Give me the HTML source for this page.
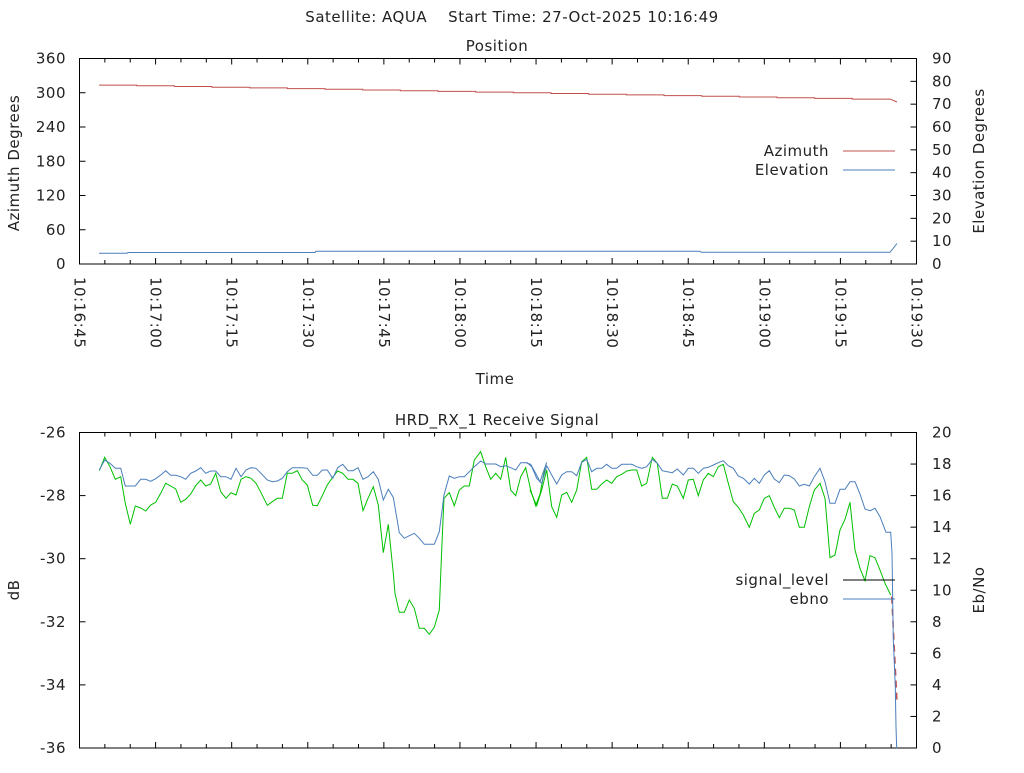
<!DOCTYPE html>
<html><head><meta charset="utf-8"><style>
html,body{margin:0;padding:0;background:#fff;}
svg text{font-family:"DejaVu Sans","Liberation Sans",sans-serif;font-size:15px;letter-spacing:0.5px;fill:#222;}
</style></head><body>
<svg id="s" width="1024" height="768" xmlns="http://www.w3.org/2000/svg">
<rect width="1024" height="768" fill="#fff"/>
<text x="512" y="22" text-anchor="middle" xml:space="preserve">Satellite: AQUA    Start Time: 27-Oct-2025 10:16:49</text>
<text x="497" y="51" text-anchor="middle">Position</text>
<text x="497" y="425" text-anchor="middle">HRD_RX_1 Receive Signal</text>
<text x="495" y="384" text-anchor="middle">Time</text>
<text transform="translate(19,163) rotate(-90)" text-anchor="middle">Azimuth Degrees</text>
<text transform="translate(984,161) rotate(-90)" text-anchor="middle">Elevation Degrees</text>
<text transform="translate(19,590) rotate(-90)" text-anchor="middle">dB</text>
<text transform="translate(984,590) rotate(-90)" text-anchor="middle">Eb/No</text>
<g id="g"></g>
<text x="829" y="156" text-anchor="end">Azimuth</text>
<text x="829" y="175" text-anchor="end">Elevation</text>
<line x1="843" y1="151" x2="895" y2="151" stroke="#c0504d"/>
<line x1="843" y1="170" x2="895" y2="170" stroke="#4a7ebb"/>
<text x="829" y="585" text-anchor="end">signal_level</text>
<text x="829" y="604" text-anchor="end">ebno</text>
<line x1="843" y1="580" x2="895" y2="580" stroke="#000"/>
<line x1="843" y1="599" x2="895" y2="599" stroke="#4a7ebb"/>
</svg>
<script>
var g=document.getElementById('g'),h='';
function L(a,b,c,d,s,w){h+='<line x1="'+a+'" y1="'+b+'" x2="'+c+'" y2="'+d+'" stroke="'+(s||'#000')+'" stroke-width="'+(w||1)+'"/>';}
function T(x,y,t,a){h+='<text x="'+x+'" y="'+y+'" text-anchor="'+a+'">'+t+'</text>';}
var X0=79.5,X1=916.5;
var labs=['10:16:45','10:17:00','10:17:15','10:17:30','10:17:45','10:18:00','10:18:15','10:18:30','10:18:45','10:19:00','10:19:15','10:19:30'];
function frame(t,b){
 h+='<rect x="'+X0+'" y="'+t+'" width="'+(X1-X0)+'" height="'+(b-t)+'" fill="none" stroke="#000"/>';
 for(var i=0;i<=33;i++){var x=X0+i*(X1-X0)/33;var len=(i%3==0)?6:4;L(x,b,x,b-len);L(x,t,x,t+len);}
}
var t1=58.5,b1=264;
frame(t1,b1);
for(var i=0;i<=6;i++){var y=b1-i*(b1-t1)/6;L(X0,y,X0+6,y);T(66,y+5,i*60,'end');}
for(var i=0;i<=9;i++){var y=b1-i*(b1-t1)/9;L(X1,y,X1-6,y);T(932,y+5,i*10,'start');}
for(var i=0;i<12;i++){var x=X0+i*(X1-X0)/11;h+='<text transform="translate('+x+',277) rotate(90)" dominant-baseline="central">'+labs[i]+'</text>';}
var az='M99,85.1',ys=[85.1,85.8,86.5,87.2,87.9,88.6,89.3,90,90.7,91.4,92.1,92.8,93.5,94.2,94.9,95.6,96.3,97,97.7,98.4,99.1],n=ys.length,st=(890-99)/n;
for(var i=0;i<n;i++){var x=99+i*st;az+=' L'+x.toFixed(1)+','+ys[i]+' L'+(x+st).toFixed(1)+','+ys[i];}
az+=' L897,102';
h+='<path d="'+az+'" fill="none" stroke="#c0504d"/>';
h+='<path d="M99,253.3 L127,253.3 L128,252.5 L315,252.5 L316,251.3 L700,251.3 L701,252.3 L890,252.3 L897,243.5" fill="none" stroke="#4a7ebb"/>';
var t2=432.5,b2=748;
frame(t2,b2);
for(var i=0;i<=5;i++){var y=t2+i*(b2-t2)/5;L(X0,y,X0+6,y);T(66,y+5,-26-2*i,'end');}
for(var i=0;i<=10;i++){var y=b2-i*(b2-t2)/10;L(X1,y,X1-6,y);T(932,y+5,i*2,'start');}
function P(arr,ox,col){var d='';for(var i=0;i<arr.length;i+=2){d+=(i?' L':'M')+(ox+arr[i]/3).toFixed(1)+','+(420+arr[i+1]/3).toFixed(1);}h+='<path d="'+d+'" fill="none" stroke="'+col+'"/>';}
var g1=[118,152,134,112,150,140,166,178,182,170,196,250,211,313,226,258,242,264,257,273,272,255,287,247,302,220,317,190,332,198,347,207,362,247,377,238,392,222,407,197,422,180,437,198,452,192,467,160,482,215,498,235,513,218,528,225,543,178,558,170,573,175,588,190,603,218,622,256,637,245,652,235,667,235,682,160,697,160,712,152,727,180,742,195,758,256,772,257,787,227,802,195,818,172,833,153,848,160,864,178,879,178,894,190,909,272,924,235,940,200,955,255,970,398,985,313,1000,460,1005,520,1018,577,1033,577,1048,540,1063,565,1078,625,1093,625,1108,643,1123,622,1138,570,1145,390,1152,235,1168,218,1183,257,1198,210,1213,198,1228,198,1243,120,1262,95,1277,140,1292,178,1307,160,1322,178,1337,112,1352,210,1367,227,1382,170,1397,143,1412,210,1427,257,1440,222,1455,143];
var g2=[30,210,50,257,65,210,80,150,95,260,110,292,125,225,140,217,155,247,170,210,185,125,200,112,215,208,230,208,245,192,260,180,275,190,290,170,305,163,320,153,335,150,350,150,365,198,380,190,397,112,412,130,427,235,442,235,457,192,472,198,490,235,505,180,520,178,535,227,550,180,565,160,580,170,595,140,610,133,625,190,640,245,655,262,670,285,688,322,703,280,718,270,733,235,748,227,763,262,778,293,793,265,808,265,823,270,838,322,853,322,868,260,883,210,900,190,915,235,930,413,945,405,960,330,975,298,990,247,1005,390,1020,445,1035,482,1050,407,1065,413,1080,450,1095,490,1112,525];
var b1a=[118,150,134,120,150,130,166,145,182,145,196,198,226,198,242,178,257,178,272,184,287,176,302,165,317,152,332,166,347,166,362,170,377,178,392,160,407,153,422,143,437,160,452,153,467,153,482,170,498,170,513,178,528,145,543,170,558,150,573,143,588,145,603,160,622,180,637,185,652,183,667,175,682,155,697,143,712,143,727,143,742,145,758,166,772,166,787,150,802,150,818,175,833,143,848,133,864,152,879,152,894,143,909,178,924,170,940,155,955,178,970,240,985,208,1000,232,1018,338,1033,355,1048,347,1063,340,1078,355,1093,373,1123,373,1138,335,1152,225,1168,168,1183,175,1198,170,1213,170,1228,155,1243,140,1262,123,1277,132,1307,132,1322,140,1337,137,1352,143,1367,150,1382,128,1397,128,1412,133,1427,160,1440,185,1460,127];
var b2a=[20,127,35,140,50,175,65,190,80,137,95,165,110,192,125,165,140,155,155,155,170,167,185,127,200,118,215,155,230,145,245,145,260,133,275,145,290,145,305,133,335,133,350,140,365,145,380,140,397,118,412,130,427,152,442,155,457,158,472,147,490,165,505,145,520,145,535,160,550,145,565,142,580,135,595,128,610,122,625,137,640,145,655,168,670,175,688,192,703,175,718,190,733,165,748,152,763,177,778,188,793,165,808,167,823,177,838,198,853,193,868,198,883,170,900,145,915,185,930,250,945,250,960,208,975,208,990,185,1005,185,1020,222,1035,267,1050,272,1065,265,1080,290,1098,337,1112,337,1116,400,1120,660,1126,800,1128,920,1130,985];
P(g1,60,'#00c000');P(g2,520,'#00c000');
h+='<path d="M891.7,596.7 L897,701.7" fill="none" stroke="#c0504d" stroke-width="1.5" stroke-dasharray="7,5"/>';
P(b1a,60,'#4a7ebb');P(b2a,520,'#4a7ebb');
g.innerHTML=h;
</script>
</body></html>
